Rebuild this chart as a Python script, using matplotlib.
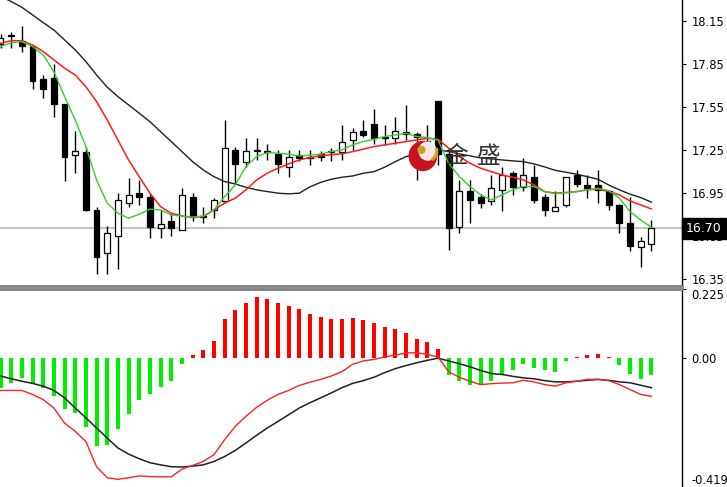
import matplotlib
matplotlib.use("Agg")
import matplotlib.pyplot as plt
from matplotlib.patches import Ellipse, Arc
from matplotlib.transforms import blended_transform_factory
import numpy as np

# ---------------- data ----------------
opens = [17.99, 18.05, 18.01, 17.97, 17.74, 17.75, 17.57, 17.21, 17.23, 16.83,
         16.53, 16.65, 16.88, 16.95, 16.92, 16.70, 16.75, 16.69, 16.92, 16.78,
         16.83, 16.89, 17.25, 17.16, 17.25, 17.24, 17.22, 17.13, 17.21, 17.19,
         17.22, 17.23, 17.23, 17.32, 17.38, 17.43, 17.34, 17.33, 17.37, 17.36,
         17.27, 17.59, 17.22, 16.71, 16.96, 16.92, 16.89, 16.97, 17.09, 16.99,
         17.06, 16.92, 16.82, 16.86, 17.07, 17.00, 17.00, 16.96, 16.86, 16.74,
         16.57, 16.59]
highs = [18.06, 18.07, 18.11, 17.98, 17.77, 17.85, 17.57, 17.38, 17.27, 16.85,
         16.72, 16.95, 17.05, 17.04, 16.95, 16.83, 16.81, 16.98, 16.95, 16.85,
         16.91, 17.46, 17.27, 17.33, 17.33, 17.29, 17.25, 17.25, 17.25, 17.25,
         17.24, 17.26, 17.42, 17.40, 17.46, 17.53, 17.42, 17.48, 17.56, 17.37,
         17.42, 17.59, 17.25, 17.04, 17.04, 16.94, 17.07, 17.13, 17.10, 17.19,
         17.14, 16.94, 16.96, 17.06, 17.11, 17.07, 17.11, 16.97, 16.87, 16.92,
         16.64, 16.76]
lows = [17.96, 17.96, 17.93, 17.67, 17.61, 17.48, 17.03, 17.09, 16.82, 16.38,
        16.38, 16.42, 16.85, 16.86, 16.63, 16.63, 16.65, 16.69, 16.75, 16.74,
        16.77, 16.88, 17.01, 17.13, 17.18, 17.18, 17.09, 17.06, 17.17, 17.14,
        17.17, 17.17, 17.18, 17.25, 17.34, 17.29, 17.28, 17.29, 17.32, 17.04,
        17.20, 17.14, 16.55, 16.67, 16.74, 16.84, 16.86, 16.82, 16.93, 16.96,
        16.88, 16.79, 16.82, 16.85, 16.99, 16.91, 16.88, 16.83, 16.67, 16.54,
        16.43, 16.54]
closes = [18.03, 18.04, 17.97, 17.73, 17.67, 17.57, 17.20, 17.24, 16.83, 16.50,
          16.67, 16.90, 16.93, 16.92, 16.71, 16.73, 16.70, 16.93, 16.78, 16.79,
          16.90, 17.26, 17.15, 17.24, 17.24, 17.23, 17.15, 17.20, 17.19, 17.20,
          17.20, 17.24, 17.30, 17.37, 17.35, 17.33, 17.33, 17.38, 17.36, 17.34,
          17.31, 17.22, 16.70, 16.96, 16.90, 16.88, 16.98, 17.07, 16.99, 17.07,
          16.90, 16.83, 16.85, 17.06, 17.01, 16.98, 16.97, 16.86, 16.74, 16.58,
          16.61, 16.70]

ma_fast = [17.969, 17.996, 18.003, 17.969, 17.911, 17.794, 17.620, 17.457, 17.271, 17.038,
           16.876, 16.806, 16.771, 16.799, 16.834, 16.829, 16.794, 16.785, 16.778, 16.787,
           16.829, 16.922, 17.003, 17.131, 17.201, 17.229, 17.225, 17.218, 17.206, 17.211,
           17.218, 17.236, 17.248, 17.283, 17.306, 17.322, 17.341, 17.352, 17.364, 17.341,
           17.334, 17.317, 17.155, 17.061, 16.992, 16.934, 16.899, 16.934, 16.969, 16.992,
           16.992, 16.957, 16.941, 16.950, 16.957, 16.969, 16.980, 16.964, 16.911, 16.817,
           16.759, 16.708]
ma_mid = [17.992, 18.010, 18.010, 17.980, 17.934, 17.876, 17.818, 17.771, 17.689, 17.585,
          17.457, 17.317, 17.178, 17.061, 16.946, 16.852, 16.806, 16.787, 16.778, 16.782,
          16.829, 16.877, 16.911, 16.969, 17.038, 17.085, 17.120, 17.150, 17.178, 17.194,
          17.206, 17.215, 17.220, 17.236, 17.253, 17.271, 17.283, 17.294, 17.306, 17.317,
          17.329, 17.322, 17.260, 17.201, 17.155, 17.120, 17.096, 17.073, 17.057, 17.038,
          17.003, 16.957, 16.946, 16.950, 16.957, 16.969, 16.974, 16.957, 16.934, 16.892,
          16.864, 16.836]
ma_slow = [18.320, 18.283, 18.243, 18.190, 18.136, 18.085, 18.015, 17.946, 17.864, 17.771,
           17.685, 17.620, 17.562, 17.504, 17.445, 17.375, 17.306, 17.236, 17.166, 17.108,
           17.061, 17.027, 17.010, 16.987, 16.969, 16.957, 16.946, 16.941, 16.946, 16.990,
           17.021, 17.043, 17.057, 17.066, 17.085, 17.096, 17.127, 17.166, 17.201, 17.220,
           17.234, 17.248, 17.237, 17.220, 17.206, 17.192, 17.185, 17.178, 17.171, 17.166,
           17.150, 17.129, 17.105, 17.092, 17.078, 17.061, 17.043, 17.003, 16.969, 16.939,
           16.915, 16.883]

macd_hist = [-0.096, -0.080, -0.066, -0.083, -0.096, -0.124, -0.164, -0.178, -0.225, -0.287,
             -0.282, -0.229, -0.180, -0.135, -0.115, -0.093, -0.073, -0.018, 0.010, 0.027,
             0.056, 0.127, 0.156, 0.179, 0.198, 0.193, 0.180, 0.170, 0.159, 0.145,
             0.134, 0.127, 0.127, 0.130, 0.124, 0.113, 0.102, 0.096, 0.083, 0.061,
             0.054, 0.029, -0.055, -0.075, -0.086, -0.086, -0.075, -0.055, -0.037, -0.020,
             -0.031, -0.040, -0.044, -0.010, 0.005, 0.010, 0.014, 0.003, -0.022, -0.053,
             -0.069, -0.055]
macd_red = [-0.105, -0.105, -0.105, -0.118, -0.135, -0.162, -0.211, -0.238, -0.271, -0.353,
            -0.389, -0.394, -0.389, -0.383, -0.385, -0.386, -0.386, -0.361, -0.349, -0.336,
            -0.314, -0.265, -0.222, -0.189, -0.160, -0.137, -0.118, -0.105, -0.089, -0.078,
            -0.069, -0.058, -0.044, -0.020, -0.009, -0.004, 0.004, 0.010, 0.017, 0.018,
            0.012, 0.004, -0.044, -0.062, -0.075, -0.086, -0.083, -0.081, -0.080, -0.072,
            -0.077, -0.086, -0.091, -0.080, -0.075, -0.069, -0.069, -0.073, -0.086, -0.102,
            -0.118, -0.124]
macd_black = [-0.058, -0.067, -0.075, -0.082, -0.091, -0.105, -0.129, -0.162, -0.194, -0.227,
              -0.260, -0.292, -0.312, -0.327, -0.340, -0.347, -0.353, -0.354, -0.351, -0.347,
              -0.336, -0.320, -0.300, -0.276, -0.251, -0.227, -0.206, -0.184, -0.162, -0.145,
              -0.129, -0.113, -0.096, -0.082, -0.073, -0.062, -0.047, -0.034, -0.024, -0.015,
              -0.007, 0.000, -0.009, -0.018, -0.028, -0.040, -0.050, -0.053, -0.059, -0.064,
              -0.067, -0.073, -0.077, -0.077, -0.075, -0.072, -0.069, -0.072, -0.077, -0.080,
              -0.088, -0.096]

price_ticks = [18.15, 17.85, 17.55, 17.25, 16.95, 16.65, 16.35]
price_tick_labels = ["18.15", "17.85", "17.55", "17.25", "16.95", "16.65", "16.35"]
current_price = 16.70
current_label = "16.70"
macd_ticks = [0.225, 0.0, -0.419]
macd_tick_labels = ["0.225", "0.00", "-0.419"]
watermark_chars = ["金", "盛"]

# ---------------- figure ----------------
W, H = 727, 487
fig = plt.figure(figsize=(W / 100, H / 100), dpi=100)
fig.patch.set_facecolor("white")

axr = 682 / W
ax1 = fig.add_axes([0, 1 - 286 / H, axr, 286 / H])
ax2 = fig.add_axes([0, 0, axr, 198 / H])

x = np.arange(len(closes))
xlim = (-0.05, 63.87)

# ---- price panel ----
ax1.axhline(current_price, color="#c4c4c4", lw=1.6, zorder=1)
ax1.vlines(x, lows, highs, color="black", lw=1.0, zorder=2)
o = np.array(opens); c = np.array(closes)
bottoms = np.minimum(o, c)
heights = np.maximum(np.abs(c - o), 0.006)
fc = ["white" if cc > oo else "black" for oo, cc in zip(o, c)]
ax1.bar(x, heights, bottom=bottoms, width=0.55, color=fc, edgecolor="black",
        linewidth=0.9, zorder=3)
ax1.plot(x, ma_slow, color="#202020", lw=1.0, zorder=4)
ax1.plot(x, ma_mid, color="#ff1a1a", lw=1.1, zorder=5)
ax1.plot(x, ma_fast, color="#33cc33", lw=1.0, zorder=6)

ax1.set_xlim(*xlim)
ax1.set_ylim(16.298, 18.294)
ax1.set_xticks([])
ax1.yaxis.tick_right()
ax1.set_yticks(price_ticks)
ax1.set_yticklabels(price_tick_labels)
ax1.tick_params(axis="y", length=3, width=0.8, labelsize=8.3, pad=4, colors="black")
for s in ("left", "top"):
    ax1.spines[s].set_visible(False)
ax1.spines["right"].set_color("black")
ax1.spines["right"].set_linewidth(1.0)
ax1.spines["bottom"].set_color("#808080")
ax1.spines["bottom"].set_linewidth(2.0)

# current price box
tr = blended_transform_factory(ax1.transAxes, ax1.transData)
ax1.text(1.006, current_price, current_label, transform=tr, color="white", fontsize=9,
         va="center", ha="left", zorder=10, clip_on=False,
         bbox=dict(boxstyle="square,pad=0.3", facecolor="black", edgecolor="black"))

# watermark logo
ax1.add_patch(Ellipse((0.620, 0.4545), 0.042, 0.106, transform=ax1.transAxes,
                      facecolor="#c8141e", edgecolor="none", zorder=7))
ax1.add_patch(Ellipse((0.627, 0.472), 0.027, 0.068, transform=ax1.transAxes,
                      facecolor="white", edgecolor="none", alpha=0.9, zorder=8))
ax1.add_patch(Arc((0.627, 0.472), 0.027, 0.068, theta1=-80, theta2=40,
                  transform=ax1.transAxes, color="#d4a020", lw=2.2, zorder=9))
ax1.add_patch(Ellipse((0.618, 0.476), 0.012, 0.029, transform=ax1.transAxes,
                      facecolor="#c9a227", edgecolor="none", zorder=9))
for ch, xc in zip(watermark_chars, (0.6686, 0.717)):
    ax1.text(xc, 0.4545, ch, transform=ax1.transAxes, fontsize=17,
             family=["Noto Sans CJK SC", "DejaVu Sans"], color="#303030",
             va="center", ha="center", zorder=9)

# ---- MACD panel ----
hc = ["#ff0000" if v > 0 else "#00ee00" for v in macd_hist]
ax2.bar(x, macd_hist, width=0.38, color=hc, zorder=2)
ax2.plot(x, macd_black, color="#202020", lw=1.1, zorder=3)
ax2.plot(x, macd_red, color="#ff2020", lw=1.0, zorder=4)
ax2.set_xlim(*xlim)
ax2.set_ylim(-0.419, 0.225)
ax2.set_xticks([])
ax2.yaxis.tick_right()
ax2.set_yticks(macd_ticks)
ax2.set_yticklabels(macd_tick_labels)
ax2.tick_params(axis="y", length=3, width=0.8, labelsize=8.3, pad=4, colors="black")
labs = ax2.get_yticklabels()
labs[0].set_va("top")
labs[2].set_va("bottom")
for s in ("left", "bottom"):
    ax2.spines[s].set_visible(False)
ax2.spines["right"].set_color("black")
ax2.spines["right"].set_linewidth(1.0)
ax2.spines["top"].set_color("#808080")
ax2.spines["top"].set_linewidth(2.0)

fig.savefig("out.png", dpi=100, facecolor="white")
